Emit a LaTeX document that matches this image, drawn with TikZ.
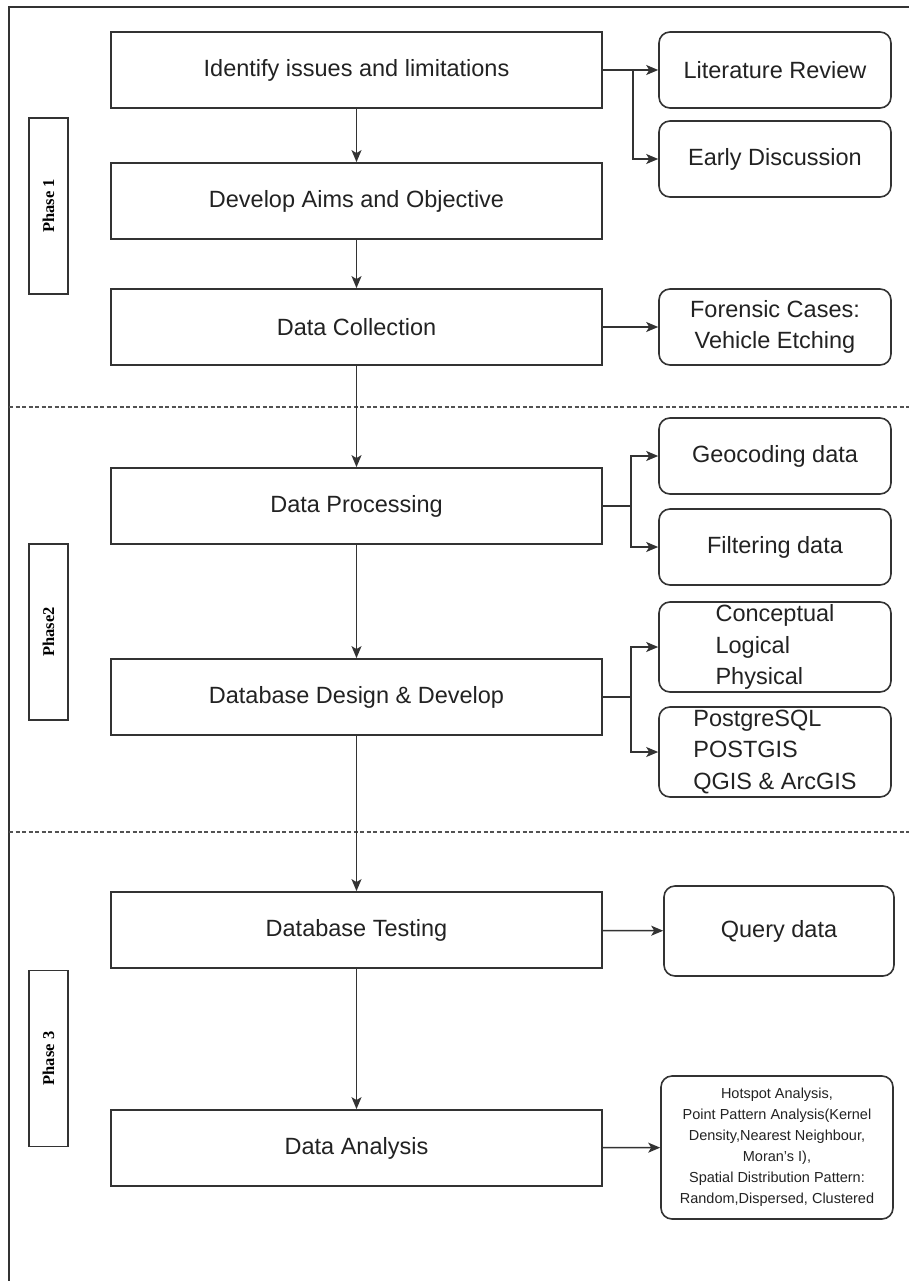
\documentclass[tikz,border=0pt]{standalone}
\usepackage{fontspec}
\setmainfont{Liberation Sans}
\newfontfamily\phasefont{Liberation Serif}
\usetikzlibrary{arrows.meta}
\definecolor{lineGray}{RGB}{51,51,51}
\definecolor{textGray}{RGB}{34,34,34}
\newcommand{\stepfont}{\fontsize{23.5pt}{31.5pt}\selectfont}
\newcommand{\notefont}{\fontsize{14.5pt}{21pt}\selectfont}

\begin{document}
\begin{tikzpicture}[auto, x=1pt, y=-1pt, >={Stealth[length=12pt,width=10pt,inset=3pt]}]

%
% Styles
%
\tikzstyle{stepbox} = [rectangle,draw=lineGray,line width=1.8pt,minimum width=491pt,minimum height=76pt,font=\stepfont,text=textGray]
\tikzstyle{sidebox} = [rectangle,rounded corners=11pt,draw=lineGray,line width=1.6pt,minimum width=232pt,minimum height=76pt,font=\stepfont,text=textGray,align=center]
\tikzstyle{phasebox} = [rectangle,draw=lineGray,line width=1.6pt,rotate=90,minimum width=176pt,minimum height=39pt,font=\phasefont\bfseries\fontsize{16.5pt}{18pt}\selectfont]
\tikzstyle{flow} = [->,draw=lineGray,line width=1.5pt]
\tikzstyle{phaseline} = [draw=lineGray!85,line width=1.5pt,dash pattern=on 4pt off 2.5pt]

\useasboundingbox (0,0) rectangle (909,1281);

% frame and phase separators
\draw[lineGray, line width=1.5pt] (909,7) -- (9,7) -- (9,1281);
\draw[phaseline] (9,407) -- (909,407);
\draw[phaseline] (9,832) -- (909,832);

% phase labels
\node[phasebox] (phaseA) at (48.5, 206)    {Phase 1};
\node[phasebox] (phaseB) at (48.5, 632)    {Phase2};
\node[phasebox] (phaseC) at (48.5, 1058.5) {Phase 3};

% main steps
\node[stepbox] (issues)   at (356.5,   70) {Identify issues and limitations};
\node[stepbox] (aims)     at (356.5,  201) {Develop Aims and Objective};
\node[stepbox] (collect)  at (356.5,  327) {Data Collection};
\node[stepbox] (process)  at (356.5,  506) {Data Processing};
\node[stepbox] (design)   at (356.5,  697) {Database Design \& Develop};
\node[stepbox] (testing)  at (356.5,  930) {Database Testing};
\node[stepbox] (analysis) at (356.5, 1148) {Data Analysis};

% side notes
\node[sidebox] (review)  at (775,  70) {Literature Review};
\node[sidebox] (discuss) at (775, 159) {Early Discussion};
\node[sidebox] (cases)   at (775, 327) {Forensic Cases:\\Vehicle Etching};
\node[sidebox] (geocode) at (775, 456) {Geocoding data};
\node[sidebox] (filter)  at (775, 547) {Filtering data};
\node[sidebox,minimum height=90pt,align=left,inner sep=0pt] (models) at (775, 647) {Conceptual\\Logical\\Physical};
\node[sidebox,minimum height=90pt,align=left,inner sep=0pt] (tools)  at (775, 752) {PostgreSQL\\POSTGIS\\QGIS \& ArcGIS};
\node[sidebox,minimum width=230pt,minimum height=90pt] (query) at (779, 931) {Query data};
\node[sidebox,minimum height=143pt,font=\notefont] (methods) at (777, 1147.5)
  {Hotspot Analysis,\\Point Pattern Analysis(Kernel\\Density,Nearest Neighbour,\\Moran's I),\\Spatial Distribution Pattern:\\Random,Dispersed, Clustered};

% main flow
\draw[flow] (issues)  -- (aims);
\draw[flow] (aims)    -- (collect);
\draw[flow] (collect) -- (process);
\draw[flow] (process) -- (design);
\draw[flow] (design)  -- (testing);
\draw[flow] (testing) -- (analysis);

% branches
\draw[flow] (issues) -- (review);
\draw[flow] (issues.east) -- ++(30,0) |- (discuss);
\draw[flow] (collect) -- (cases);
\draw[flow] (process.east) -- ++(28,0) |- (geocode);
\draw[flow] (process.east) -- ++(28,0) |- (filter);
\draw[flow] (design.east) -- ++(28,0) |- (models);
\draw[flow] (design.east) -- ++(28,0) |- (tools);
\draw[flow] (testing) -- (query);
\draw[flow] (analysis) -- (methods);

\end{tikzpicture}
\end{document}
